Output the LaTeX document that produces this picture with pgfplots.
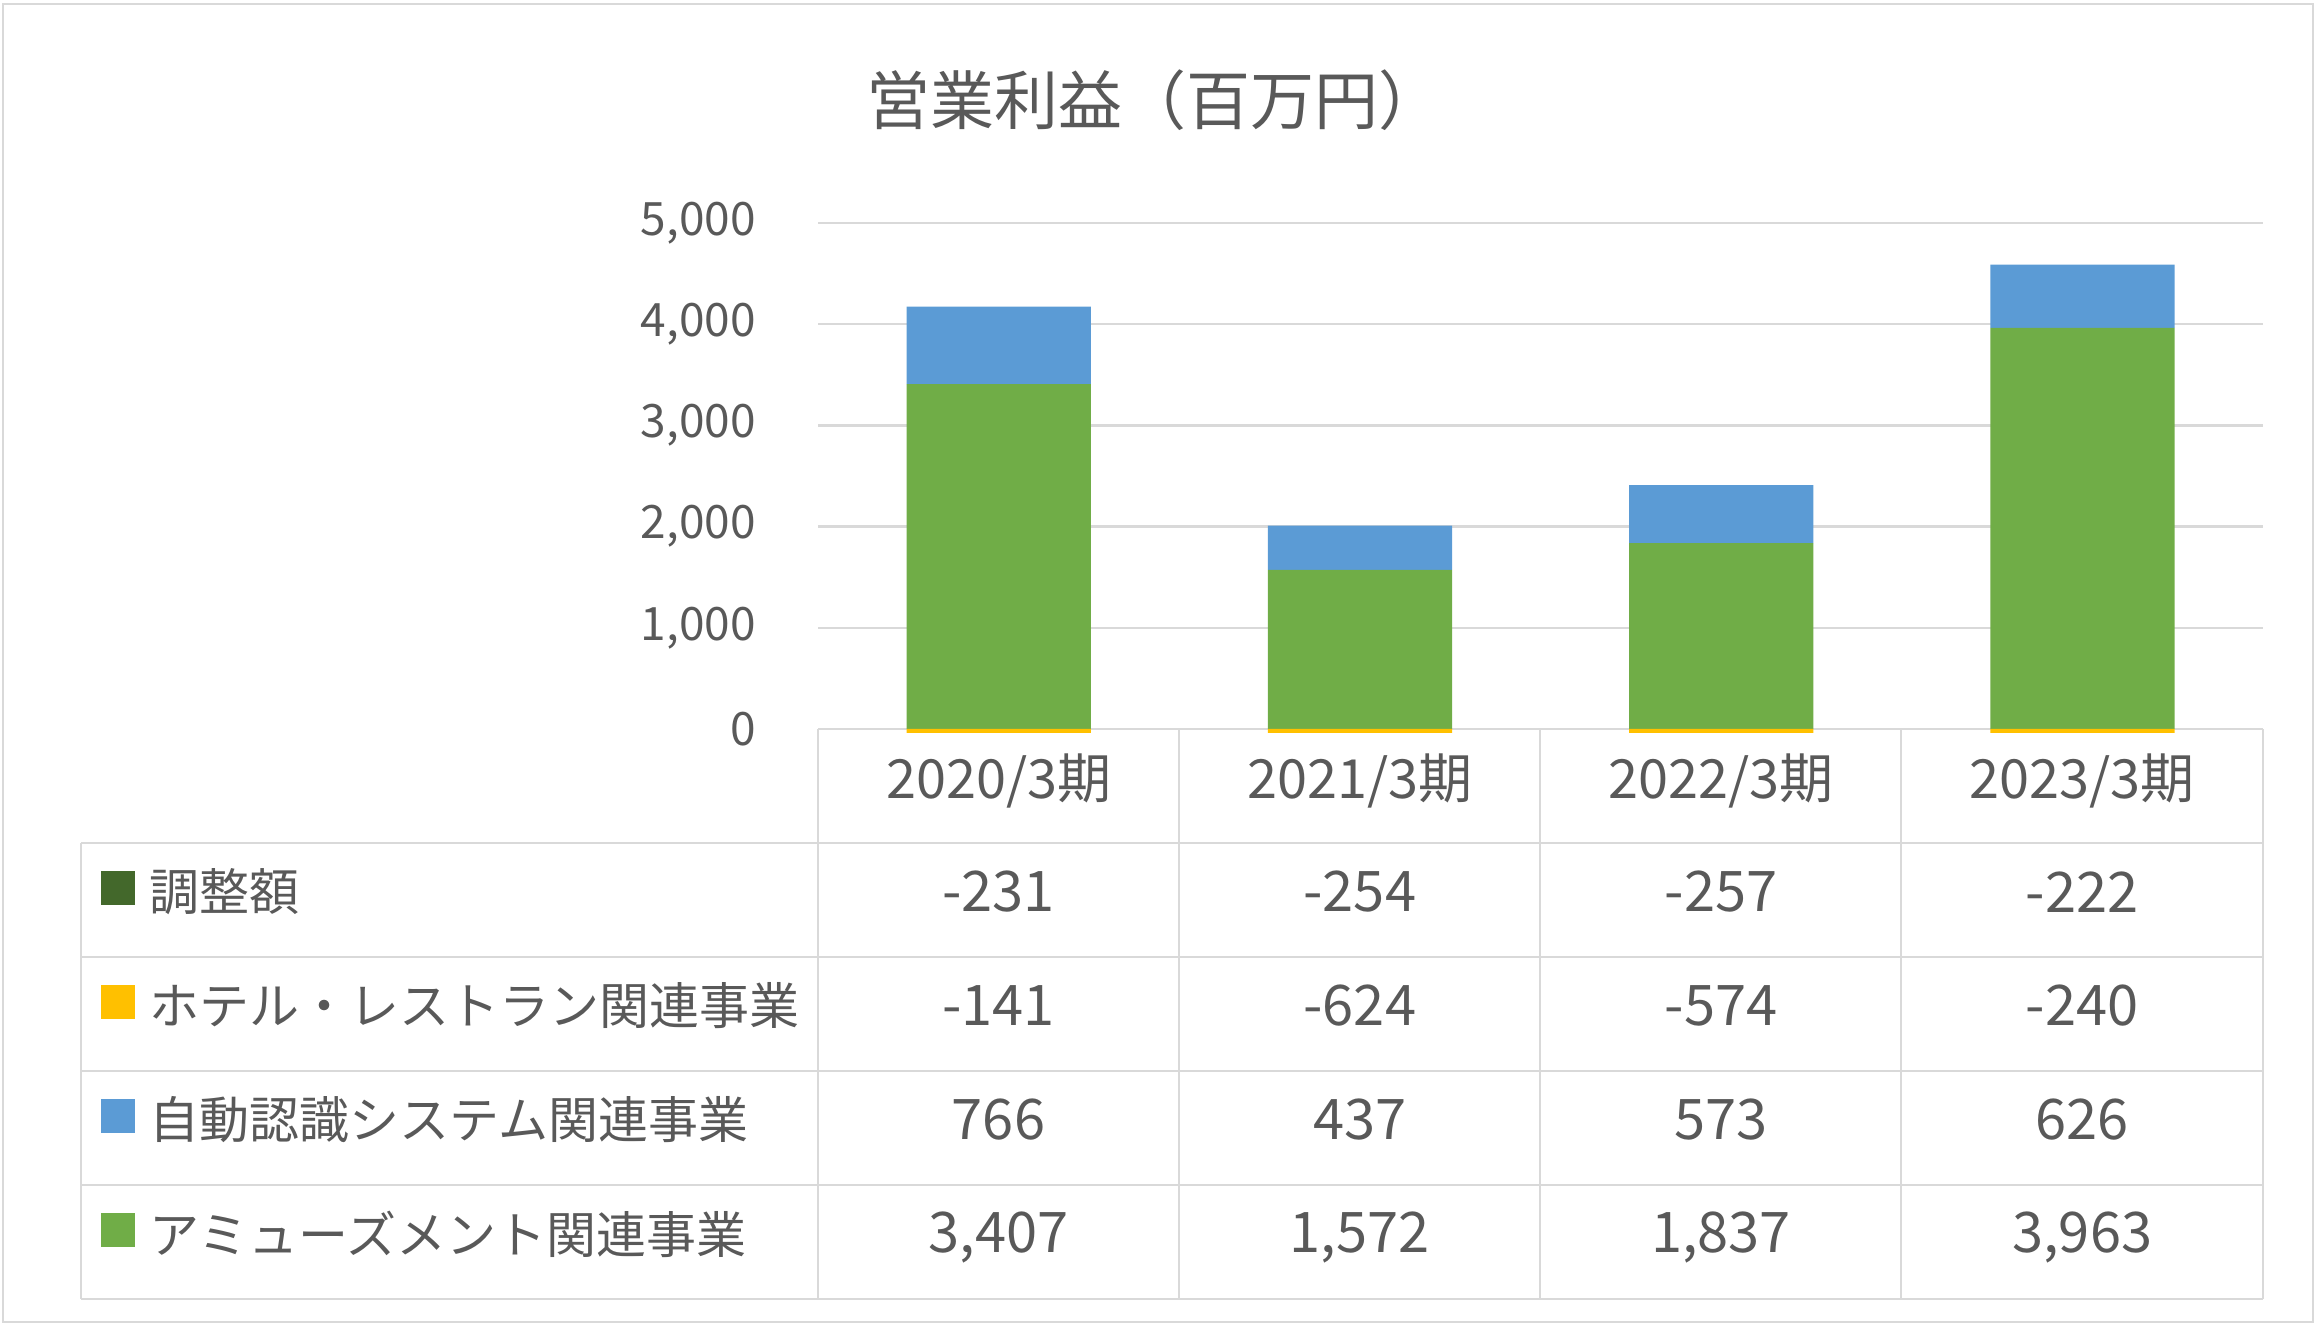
\documentclass[border=0pt]{standalone}
\usepackage{fontspec}
\setmainfont{Noto Sans CJK JP}
\usepackage{pgfplots}
\pgfplotsset{compat=1.18}
\definecolor{txt}{HTML}{595959}
\definecolor{gridc}{HTML}{D9D9D9}
\definecolor{cgreen}{HTML}{70AD47}
\definecolor{cblue}{HTML}{5B9BD5}
\definecolor{cyellow}{HTML}{FFC000}
\definecolor{cdark}{HTML}{43682B}
\begin{document}
\begin{tikzpicture}
\begin{scope}[x=0.25pt,y=-0.25pt]
\useasboundingbox (0,0) rectangle (2319,1329);
\draw[gridc, line width=0.5pt] (3,4) rectangle (2313,1322);
\begin{scope}[gridc, line width=0.6pt]
\draw (818,729) -- (2263,729);
\foreach \y in {843,957,1071,1185,1299} \draw (81,\y) -- (2263,\y);
\draw (81,843) -- (81,1299);
\foreach \x in {818,1179,1540,1901,2263} \draw (\x,729) -- (\x,1299);
\end{scope}
\node[txt, font=\fontsize{16}{19}\selectfont] at (1154,100) {営業利益（百万円）};
\foreach \c/\t/\y in {cdark/調整額/892, cyellow/ホテル・レストラン関連事業/1006, cblue/自動認識システム関連事業/1120, cgreen/アミューズメント関連事業/1234} {
  \fill[\c] (101,\y-21) rectangle (135,\y+13);
  \node[txt, anchor=west, inner sep=0pt, font=\fontsize{12.5}{15}\selectfont] at (149,\y) {\t};
}
\foreach \v [count=\i from 0] in {-231,-254,-257,-222} \node[txt, font=\fontsize{14}{17}\selectfont] at (998.5+361.25*\i,892) {\v};
\foreach \v [count=\i from 0] in {-141,-624,-574,-240} \node[txt, font=\fontsize{14}{17}\selectfont] at (998.5+361.25*\i,1006) {\v};
\foreach \v [count=\i from 0] in {766,437,573,626} \node[txt, font=\fontsize{14}{17}\selectfont] at (998.5+361.25*\i,1120) {\v};
\foreach \v [count=\i from 0] in {{3,407},{1,572},{1,837},{3,963}} \node[txt, font=\fontsize{14}{17}\selectfont] at (998.5+361.25*\i,1237) {\v};
\end{scope}
\begin{axis}[at={(204.5pt,-183pt)}, anchor=south west, scale only axis,
  width=361.25pt, height=127.25pt,
  xmin=-0.5, xmax=3.5, ymin=-30, ymax=5000,
  ybar stacked, bar width=0.51,
  ytick={0,1000,2000,3000,4000,5000},
  ymajorgrids, grid style={gridc, line width=0.6pt},
  axis line style={draw=none}, major tick length=0pt,
  scaled y ticks=false,
  xtick={0,1,2,3}, xticklabels={2020/3期,2021/3期,2022/3期,2023/3期},
  xticklabel style={font=\fontsize{13.5}{16}\selectfont, text=txt, yshift=-2pt},
  yticklabel style={font=\fontsize{11.5}{14}\selectfont, text=txt, xshift=-12pt,
    /pgf/number format/1000 sep={,}, /pgf/number format/assume math mode=true},
]
\addplot[fill=cgreen, draw=none] coordinates {(0,3407) (1,1572) (2,1837) (3,3963)};
\addplot[fill=cblue, draw=none] coordinates {(0,766) (1,437) (2,573) (3,626)};
\end{axis}
\begin{axis}[at={(204.5pt,-183pt)}, anchor=south west, scale only axis,
  width=361.25pt, height=127.25pt,
  xmin=-0.5, xmax=3.5, ymin=-30, ymax=5000,
  hide axis, ybar stacked, bar width=0.51]
\addplot[fill=cyellow, draw=none] coordinates {(0,-141) (1,-624) (2,-574) (3,-240)};
\addplot[fill=cdark, draw=none] coordinates {(0,-231) (1,-254) (2,-257) (3,-222)};
\end{axis}
\end{tikzpicture}
\end{document}
